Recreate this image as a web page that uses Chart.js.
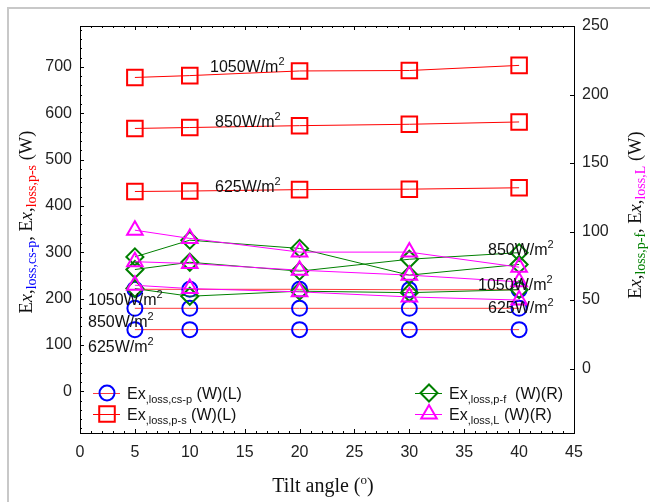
<!DOCTYPE html>
<html>
<head>
<meta charset="utf-8">
<script src="https://cdn.jsdelivr.net/npm/chart.js@4.4.1/dist/chart.umd.min.js"></script>
<style>
html, body { margin: 0; padding: 0; background: #fff; }
</style>
</head>
<body>
<canvas id="myChart" width="650" height="502"></canvas>
<script>
// tilt angles (deg)
var tilt = [5, 10, 20, 30, 40];

// left axis, W
var csp1050 = [220, 220, 220, 219, 219];
var csp850 = [179, 179, 179, 179, 179];
var csp625 = [133, 133, 133, 133, 133];
var ps1050 = [677, 681, 691, 692, 703];
var ps850 = [567, 569, 573, 576, 581];
var ps625 = [431, 432, 435, 436, 439];

// right axis, W
var pf1050 = [81.5, 93.7, 87.7, 68.2, 76.0];
var pf850 = [72.3, 77.6, 71.1, 79.8, 84.6];
var pf625 = [58.4, 52.8, 56.5, 55.4, 57.6];
var L1050 = [101, 95, 85, 85, 74];
var L850 = [78, 76.7, 71.8, 68.2, 63.3];
var L625 = [60.8, 58.4, 56, 52.3, 50];

var xTicks = [0, 5, 10, 15, 20, 25, 30, 35, 40, 45];
var leftTicks = [0, 100, 200, 300, 400, 500, 600, 700];
var rightTicks = [0, 50, 100, 150, 200, 250];

// irradiance labels: [text, x (deg), y (left axis W)]
var irrLabels = [
  ['1050', 11.84, 688], ['850', 12.3, 570], ['625', 12.3, 430],
  ['1050', 0.73, 186], ['850', 0.73, 139], ['625', 0.73, 85],
  ['850', 37.17, 294], ['1050', 36.26, 219], ['625', 37.17, 169]
];

function pts(ys) {
  return ys.map(function (v, i) { return { x: tilt[i], y: v }; });
}

var BLUE = '#0000ff', RED = '#ff0000', GREEN = '#008000', MAG = '#ff00ff';

function ds(ys, axis, line, mark, style, r) {
  return {
    data: pts(ys), yAxisID: axis,
    borderColor: line, borderWidth: 1,
    pointStyle: style, pointRadius: r, pointHoverRadius: r,
    pointBorderColor: mark, pointBorderWidth: 2,
    pointBackgroundColor: 'rgba(0,0,0,0)',
    backgroundColor: 'rgba(0,0,0,0)', fill: false, tension: 0
  };
}

var datasets = [
  ds(L1050, 'yR', MAG, MAG, 'triangle', 9),
  ds(L850, 'yR', MAG, MAG, 'triangle', 9),
  ds(L625, 'yR', MAG, MAG, 'triangle', 9),
  ds(pf1050, 'yR', GREEN, GREEN, 'rectRot', 8.5),
  ds(pf850, 'yR', GREEN, GREEN, 'rectRot', 8.5),
  ds(pf625, 'yR', GREEN, GREEN, 'rectRot', 8.5),
  ds(csp1050, 'yL', '#ff3a3a', BLUE, 'circle', 7.5),
  ds(csp850, 'yL', '#ff3a3a', BLUE, 'circle', 7.5),
  ds(csp625, 'yL', '#ff3a3a', BLUE, 'circle', 7.5),
  ds(ps1050, 'yL', RED, RED, 'rect', 11),
  ds(ps850, 'yL', RED, RED, 'rect', 11),
  ds(ps625, 'yL', RED, RED, 'rect', 11)
];

var ARIAL = 'Arial, "Liberation Sans", sans-serif';
var TIMES = '"Times New Roman", "Liberation Serif", serif';

function drawRich(ctx, parts, x, y) {
  var cx = x;
  parts.forEach(function (p) {
    ctx.font = p[1];
    ctx.fillStyle = p[2];
    ctx.fillText(p[0], cx, y + (p[3] || 0));
    cx += ctx.measureText(p[0]).width;
  });
  return cx - x;
}
function richWidth(ctx, parts) {
  var w = 0;
  parts.forEach(function (p) { ctx.font = p[1]; w += ctx.measureText(p[0]).width; });
  return w;
}

function axisTitle(sub1, c1, sub2, c2) {
  var big = '18.5px ' + TIMES, ital = 'italic 18.5px ' + TIMES, small = '14px ' + TIMES;
  return [
    ['E', big, '#111'], ['x', ital, '#111'], [',', big, '#111'],
    [sub1, small, c1, 4],
    [', E', big, '#111'], ['x', ital, '#111'], [',', big, '#111'],
    [sub2, small, c2, 4],
    [' (W)', big, '#111']
  ];
}

var decor = {
  id: 'decor',
  afterDraw: function (chart) {
    var ctx = chart.ctx, a = chart.chartArea;
    var xs = chart.scales.x, yl = chart.scales.yL, yr = chart.scales.yR;
    ctx.save();

    // outer page frame
    ctx.strokeStyle = '#c8c8c8';
    ctx.lineWidth = 2;
    ctx.beginPath();
    ctx.moveTo(8, 502); ctx.lineTo(8, 8); ctx.lineTo(650, 8);
    ctx.stroke();

    // plot frame
    ctx.strokeStyle = '#000';
    ctx.lineWidth = 1;
    ctx.strokeRect(a.left + 0.5, a.top + 0.5, a.right - a.left, a.bottom - a.top);

    // inward ticks
    ctx.beginPath();
    for (var v = 0; v <= 45; v++) {
      var px = Math.round(xs.getPixelForValue(v)) + 0.5, len = v % 5 === 0 ? 4 : 2;
      ctx.moveTo(px, a.bottom); ctx.lineTo(px, a.bottom - len);
      ctx.moveTo(px, a.top); ctx.lineTo(px, a.top + len);
    }
    for (var w = -80; w <= 780; w += 20) {
      var py = Math.round(yl.getPixelForValue(w)) + 0.5, l2 = w % 100 === 0 ? 4 : 2;
      ctx.moveTo(a.left, py); ctx.lineTo(a.left + l2, py);
    }
    rightTicks.forEach(function (t) {
      var py = Math.round(yr.getPixelForValue(t)) + 0.5;
      ctx.moveTo(a.right, py); ctx.lineTo(a.right - 4, py);
    });
    ctx.stroke();

    // irradiance labels
    ctx.textBaseline = 'alphabetic';
    ctx.textAlign = 'left';
    irrLabels.forEach(function (lb) {
      drawRich(ctx, [
        [lb[0] + 'W/m', '16px ' + ARIAL, '#111'],
        ['2', '11px ' + ARIAL, '#111', -7]
      ], xs.getPixelForValue(lb[1]), yl.getPixelForValue(lb[2]));
    });

    // legend
    var legend = [
      { x: 107, y: 393, line: '#ff3a3a', mark: BLUE, style: 'circle', r: 7.5, sub: ',loss,cs-p', tail: ' (W)(L)' },
      { x: 107, y: 414, line: RED, mark: RED, style: 'rect', r: 11, sub: ',loss,p-s', tail: ' (W)(L)' },
      { x: 429, y: 393, line: GREEN, mark: GREEN, style: 'rectRot', r: 8.5, sub: ',loss,p-f', tail: '  (W)(R)' },
      { x: 429, y: 414, line: MAG, mark: MAG, style: 'triangle', r: 9, sub: ',loss,L', tail: ' (W)(R)' }
    ];
    legend.forEach(function (it) {
      ctx.strokeStyle = it.line;
      ctx.lineWidth = 1;
      ctx.beginPath();
      ctx.moveTo(it.x - 14, it.y + 0.5); ctx.lineTo(it.x + 13, it.y + 0.5);
      ctx.stroke();
      ctx.strokeStyle = it.mark;
      ctx.fillStyle = 'rgba(0,0,0,0)';
      ctx.lineWidth = 2;
      Chart.helpers.drawPoint(ctx, { pointStyle: it.style, radius: it.r, rotation: 0, borderWidth: 2 }, it.x, it.y);
      drawRich(ctx, [
        ['Ex', '16px ' + ARIAL, '#111'],
        [it.sub, '11px ' + ARIAL, '#111', 4],
        [it.tail, '16px ' + ARIAL, '#111']
      ], it.x + 20, it.y + 6);
    });

    // x title
    var xt = [
      ['Tilt angle (', '20px ' + TIMES, '#111'],
      ['o', '13px ' + TIMES, '#111', -8],
      [')', '20px ' + TIMES, '#111']
    ];
    drawRich(ctx, xt, 323 - richWidth(ctx, xt) / 2, 492);

    // left title
    var lt = axisTitle('loss,cs-p', BLUE, 'loss,p-s', RED);
    ctx.save();
    ctx.translate(32, 222);
    ctx.rotate(-Math.PI / 2);
    drawRich(ctx, lt, -richWidth(ctx, lt) / 2, 0);
    ctx.restore();

    // right title
    var rt = axisTitle('loss,p-f', GREEN, 'loss,L', MAG);
    ctx.save();
    ctx.translate(641, 215);
    ctx.rotate(-Math.PI / 2);
    drawRich(ctx, rt, -richWidth(ctx, rt) / 2, 0);
    ctx.restore();

    ctx.restore();
  }
};

function keepTicks(list) {
  return function (scale) {
    scale.ticks = list.map(function (v) { return { value: v }; });
  };
}

var tickFont = { family: ARIAL, size: 16 };

var ctx = document.getElementById('myChart').getContext('2d');
var myChart = new Chart(ctx, {
  type: 'line',
  data: { datasets: datasets },
  options: {
    responsive: false,
    animation: false,
    layout: { padding: { top: 26, left: 0, right: 0, bottom: 0 } },
    plugins: { legend: { display: false }, tooltip: { enabled: false } },
    scales: {
      x: {
        type: 'linear', min: 0, max: 45,
        ticks: { stepSize: 5, font: tickFont, color: '#222', padding: 10, maxRotation: 0 },
        grid: { display: false, drawTicks: false },
        border: { display: false },
        afterBuildTicks: keepTicks(xTicks),
        afterFit: function (s) { s.height = 69; }
      },
      yL: {
        type: 'linear', position: 'left', min: -90, max: 788,
        ticks: { stepSize: 100, font: tickFont, color: '#222', padding: 8 },
        grid: { display: false, drawTicks: false },
        border: { display: false },
        afterBuildTicks: keepTicks(leftTicks),
        afterFit: function (s) { s.width = 80; }
      },
      yR: {
        type: 'linear', position: 'right', min: -47, max: 250,
        ticks: { stepSize: 50, font: tickFont, color: '#222', padding: 8 },
        grid: { display: false, drawTicks: false },
        border: { display: false },
        afterBuildTicks: keepTicks(rightTicks),
        afterFit: function (s) { s.width = 76; }
      }
    }
  },
  plugins: [decor]
});
</script>
</body>
</html>
